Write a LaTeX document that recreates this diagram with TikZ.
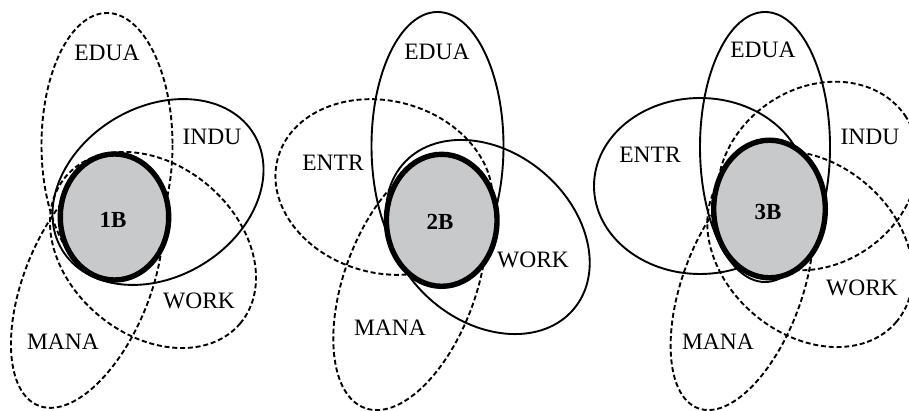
\documentclass[tikz,border=0pt]{standalone}
\usepackage{fontspec}
\setmainfont{Liberation Serif}
\usetikzlibrary{shapes.geometric}
\definecolor{coregray}{RGB}{200,201,203}
\tikzset{
  ring/.style={line width=1.9pt},
  dashring/.style={line width=1.9pt, dash pattern=on 5pt off 2.8pt},
  core/.style={ellipse, draw, line width=5.4pt, fill=coregray, inner sep=0pt},
  corelbl/.style={inner sep=0pt, font=\fontsize{23}{27}\selectfont\bfseries},
  lbl/.style={inner sep=0pt, font=\fontsize{23.5}{28}\selectfont}
}
\begin{document}
\begin{tikzpicture}[x=1pt,y=-1pt]
\useasboundingbox (0,0) rectangle (909,411);
% ---------- panel 1 ----------
\draw[dashring] (107,145) ellipse [x radius=65.5, y radius=132];
\draw[ring, rotate around={31:(158,192)}] (158,192) ellipse [x radius=112, y radius=85];
\draw[dashring, rotate around={-40:(153,250)}] (153,250) ellipse [x radius=114, y radius=85];
\draw[dashring, rotate around={68:(87,285)}] (87,285) ellipse [x radius=130, y radius=63];
\node[core, minimum width=108.4pt, minimum height=126pt] (c1) at (114.5,217) {};
\node[corelbl] (t1) at (113,220) {1B};
\node[lbl] (edua1) at (107,53) {EDUA};
\node[lbl] (indu1) at (212,137) {INDU};
\node[lbl] (work1) at (199,301) {WORK};
\node[lbl] (mana1) at (63,342) {MANA};
% ---------- panel 2 ----------
\draw[ring] (437.5,146) ellipse [x radius=66, y radius=134];
\draw[dashring, rotate around={-15:(384,187)}] (384,187) ellipse [x radius=110, y radius=86];
\draw[ring, rotate around={-40:(488,237)}] (488,237) ellipse [x radius=112, y radius=85];
\draw[dashring, rotate around={70:(410,284)}] (410,284) ellipse [x radius=132, y radius=66];
\node[core, minimum width=110.6pt, minimum height=132pt] (c2) at (441.7,220.3) {};
\node[corelbl] (t2) at (440,222) {2B};
\node[lbl] (edua2) at (437,52) {EDUA};
\node[lbl] (entr2) at (333,163) {ENTR};
\node[lbl] (work2) at (533,260) {WORK};
\node[lbl] (mana2) at (390,328) {MANA};
% ---------- panel 3 ----------
\draw[ring] (765,147) ellipse [x radius=65, y radius=135];
\draw[ring] (700,186) ellipse [x radius=106, y radius=88];
\draw[dashring, rotate around={35:(818,176)}] (818,176) ellipse [x radius=106, y radius=88];
\draw[dashring, rotate around={-40:(810,249)}] (810,249) ellipse [x radius=113, y radius=86];
\draw[dashring, rotate around={70:(742,288)}] (742,288) ellipse [x radius=128, y radius=60];
\node[core, minimum width=111.6pt, minimum height=137.6pt] (c3) at (769.5,209) {};
\node[corelbl] (t3) at (768,212) {3B};
\node[lbl] (edua3) at (763,50) {EDUA};
\node[lbl] (entr3) at (650,155) {ENTR};
\node[lbl] (indu3) at (870,137) {INDU};
\node[lbl] (work3) at (862,288) {WORK};
\node[lbl] (mana3) at (718,342) {MANA};
\end{tikzpicture}
\end{document}
